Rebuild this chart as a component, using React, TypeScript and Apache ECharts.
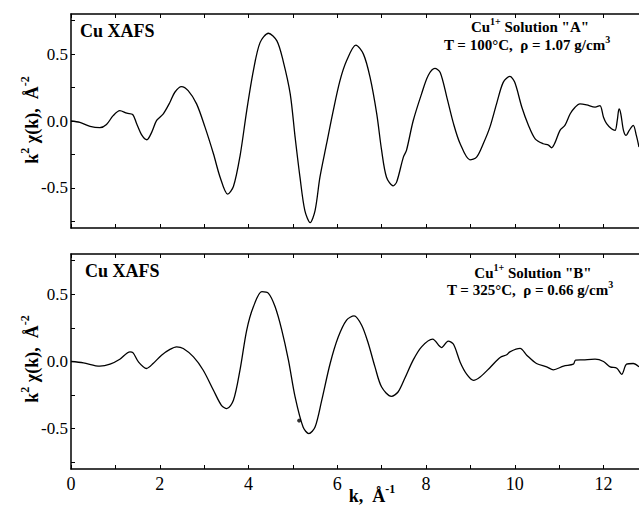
import React, { useEffect, useRef } from "react";
import * as echarts from "echarts";

const kA = [0.0, 0.2, 0.43, 0.65, 0.8, 0.95, 1.1, 1.26, 1.39, 1.48, 1.6, 1.71, 1.82, 1.93, 2.08, 2.23, 2.34, 2.49, 2.64, 2.83, 3.02, 3.21, 3.36, 3.53, 3.66, 3.81, 3.96, 4.11, 4.26, 4.45, 4.64, 4.78, 4.94, 5.05, 5.16, 5.27, 5.39, 5.5, 5.61, 5.76, 5.91, 6.06, 6.21, 6.42, 6.59, 6.74, 6.89, 7.0, 7.11, 7.26, 7.34, 7.49, 7.56, 7.71, 7.9, 8.05, 8.2, 8.32, 8.47, 8.62, 8.77, 8.99, 9.14, 9.29, 9.44, 9.59, 9.74, 9.89, 10.0, 10.16, 10.31, 10.46, 10.64, 10.76, 10.83, 10.91, 11.02, 11.13, 11.25, 11.36, 11.47, 11.62, 11.81, 11.92, 12.0, 12.07, 12.18, 12.26, 12.31, 12.35, 12.39, 12.45, 12.51, 12.58, 12.67, 12.74, 12.8];
const chiA = [0.0, -0.01, -0.04, -0.05, -0.026, 0.04, 0.078, 0.058, 0.049, -0.02, -0.108, -0.14, -0.083, 0.004, 0.054, 0.14, 0.215, 0.257, 0.227, 0.128, -0.046, -0.245, -0.42, -0.547, -0.49, -0.26, 0.078, 0.376, 0.586, 0.656, 0.599, 0.45, 0.203, -0.12, -0.42, -0.67, -0.76, -0.67, -0.42, -0.17, 0.078, 0.3, 0.45, 0.567, 0.5, 0.326, 0.053, -0.22, -0.42, -0.485, -0.455, -0.27, -0.22, 0.0, 0.203, 0.34, 0.393, 0.363, 0.177, -0.02, -0.17, -0.29, -0.27, -0.17, -0.046, 0.128, 0.289, 0.333, 0.289, 0.103, -0.033, -0.133, -0.17, -0.18, -0.2, -0.16, -0.07, -0.033, 0.054, 0.103, 0.128, 0.12, 0.103, 0.115, 0.028, -0.02, -0.058, -0.07, 0.004, 0.09, 0.054, -0.07, -0.108, -0.07, -0.033, -0.108, -0.195];

const kB = [0.0, 0.28, 0.65, 0.88, 1.1, 1.33, 1.4, 1.52, 1.7, 1.85, 2.04, 2.23, 2.38, 2.53, 2.76, 2.98, 3.21, 3.39, 3.51, 3.66, 3.81, 3.96, 4.11, 4.3, 4.45, 4.6, 4.75, 4.9, 5.05, 5.23, 5.36, 5.5, 5.65, 5.84, 6.02, 6.21, 6.38, 6.55, 6.7, 6.85, 7.0, 7.22, 7.37, 7.52, 7.71, 7.9, 8.15, 8.35, 8.5, 8.62, 8.77, 8.92, 9.07, 9.22, 9.44, 9.67, 9.82, 9.89, 10.12, 10.27, 10.49, 10.72, 10.87, 11.1, 11.32, 11.37, 11.54, 11.81, 12.0, 12.15, 12.3, 12.41, 12.52, 12.67, 12.8];
const chiB = [0.0, -0.01, -0.035, -0.02, 0.017, 0.072, 0.064, -0.003, -0.052, -0.015, 0.047, 0.09, 0.109, 0.097, 0.034, -0.065, -0.214, -0.326, -0.351, -0.289, -0.06, 0.234, 0.407, 0.52, 0.507, 0.407, 0.234, 0.01, -0.264, -0.488, -0.537, -0.488, -0.289, -0.015, 0.18, 0.308, 0.34, 0.27, 0.134, -0.04, -0.19, -0.259, -0.227, -0.127, 0.01, 0.109, 0.166, 0.104, 0.152, 0.128, -0.005, -0.096, -0.14, -0.115, -0.046, 0.03, 0.05, 0.072, 0.097, 0.047, -0.015, -0.04, -0.062, -0.034, -0.02, 0.01, 0.012, 0.017, 0.0, -0.04, -0.05, -0.096, -0.02, -0.015, -0.04];

const dotB = [[5.14, -0.44]];

const xLabelValues = [0, 2, 4, 6, 8, 10, 12];
const xTickValues = [0, 1, 2, 3, 4, 5, 6, 7, 8, 9, 10, 11, 12];
const yLabelValues = [-0.5, 0, 0.5];
const yTickValues = [-0.75, -0.5, -0.25, 0, 0.25, 0.5, 0.75];

const FONT = "Liberation Serif";

function pairs(xs: number[], ys: number[]) {
  return xs.map((x, i) => [x, ys[i]]);
}

export default function App() {
  const ref = useRef<HTMLDivElement>(null);
  useEffect(() => {
    document.body.style.margin = "0";
    if (!ref.current) return;
    const chart = echarts.init(ref.current, null, { renderer: "svg" });

    const lineCol = "#000";
    const xAxisBase = (gridIndex: number, position: "top" | "bottom", labels: boolean) => ({
      type: "value",
      gridIndex,
      position,
      min: 0,
      max: 12.8,
      splitLine: { show: false },
      axisLine: { show: true, onZero: false, lineStyle: { color: lineCol, width: 1.5 } },
      axisTick: { show: true, inside: true, length: 4, customValues: xTickValues, lineStyle: { color: lineCol, width: 1 } },
      axisLabel: {
        show: labels,
        customValues: xLabelValues,
        color: "#000",
        fontFamily: FONT,
        fontSize: 18,
        margin: 6,
      },
    });
    const yAxisBase = (gridIndex: number) => ({
      type: "value",
      gridIndex,
      min: -0.8,
      max: 0.8,
      splitLine: { show: false },
      axisLine: { show: true, onZero: false, lineStyle: { color: lineCol, width: 1.5 } },
      axisTick: { show: true, inside: true, length: 4, customValues: yTickValues, lineStyle: { color: lineCol, width: 1 } },
      axisLabel: {
        show: true,
        customValues: yLabelValues,
        formatter: (v: number) => v.toFixed(1),
        color: "#000",
        fontFamily: FONT,
        fontSize: 17,
        margin: 3,
      },
    });

    const rich = {
      b: { fontFamily: FONT, fontWeight: "bold", fontSize: 18, lineHeight: 26, fill: "#000" },
      sup: { fontFamily: FONT, fontWeight: "bold", fontSize: 12, lineHeight: 12, verticalAlign: "top", fill: "#000" },
      a: { fontFamily: FONT, fontWeight: "bold", fontSize: 15, lineHeight: 22, fill: "#000" },
      asup: { fontFamily: FONT, fontWeight: "bold", fontSize: 10, lineHeight: 12, verticalAlign: "top", fill: "#000" },
    };

    const txt = (x: number, y: number, text: string, align = "left", rotation = 0) => ({
      type: "text",
      x,
      y,
      rotation,
      style: {
        text,
        fontFamily: FONT,
        fontWeight: "bold",
        fontSize: 18,
        fill: "#000",
        align,
        verticalAlign: "middle",
        rich,
      },
    });

    const option = {
      animation: false,
      textStyle: { fontFamily: FONT, color: "#000" },
      grid: [
        { left: 71, top: 14, width: 568, height: 214 },
        { left: 71, top: 254, width: 568, height: 215 },
      ],
      xAxis: [
        xAxisBase(0, "bottom", false),
        xAxisBase(0, "top", false),
        xAxisBase(1, "bottom", true),
        xAxisBase(1, "top", false),
      ],
      yAxis: [yAxisBase(0), yAxisBase(1)],
      series: [
        {
          type: "line",
          xAxisIndex: 0,
          yAxisIndex: 0,
          data: pairs(kA, chiA),
          showSymbol: false,
          smooth: 0.3,
          lineStyle: { color: "#000", width: 1.3 },
        },
        {
          type: "line",
          xAxisIndex: 2,
          yAxisIndex: 1,
          data: pairs(kB, chiB),
          showSymbol: false,
          smooth: 0.3,
          lineStyle: { color: "#000", width: 1.3 },
        },
        {
          type: "scatter",
          xAxisIndex: 2,
          yAxisIndex: 1,
          data: dotB,
          symbolSize: 4,
          itemStyle: { color: "#000" },
        },
      ],
      graphic: [
        txt(80, 31, "{b|Cu XAFS}"),
        txt(85, 271, "{b|Cu XAFS}"),
        txt(530, 27, '{a|Cu}{asup|1+}{a| Solution "A"}', "center"),
        txt(527, 45, "{a|T = 100°C,  ρ = 1.07 g/cm}{asup|3}", "center"),
        txt(533, 273, '{a|Cu}{asup|1+}{a| Solution "B"}', "center"),
        txt(530, 290, "{a|T = 325°C,  ρ = 0.66 g/cm}{asup|3}", "center"),
        txt(32, 120, "{b|k}{sup|2}{b| χ(k),  Å}{sup|-2}", "center", Math.PI / 2),
        txt(32, 359, "{b|k}{sup|2}{b| χ(k),  Å}{sup|-2}", "center", Math.PI / 2),
        txt(372, 496, "{b|k,  Å}{sup|-1}", "center"),
      ],
    };
    chart.setOption(option as any);
    return () => chart.dispose();
  }, []);
  return <div ref={ref} style={{ width: 639, height: 512 }} />;
}
